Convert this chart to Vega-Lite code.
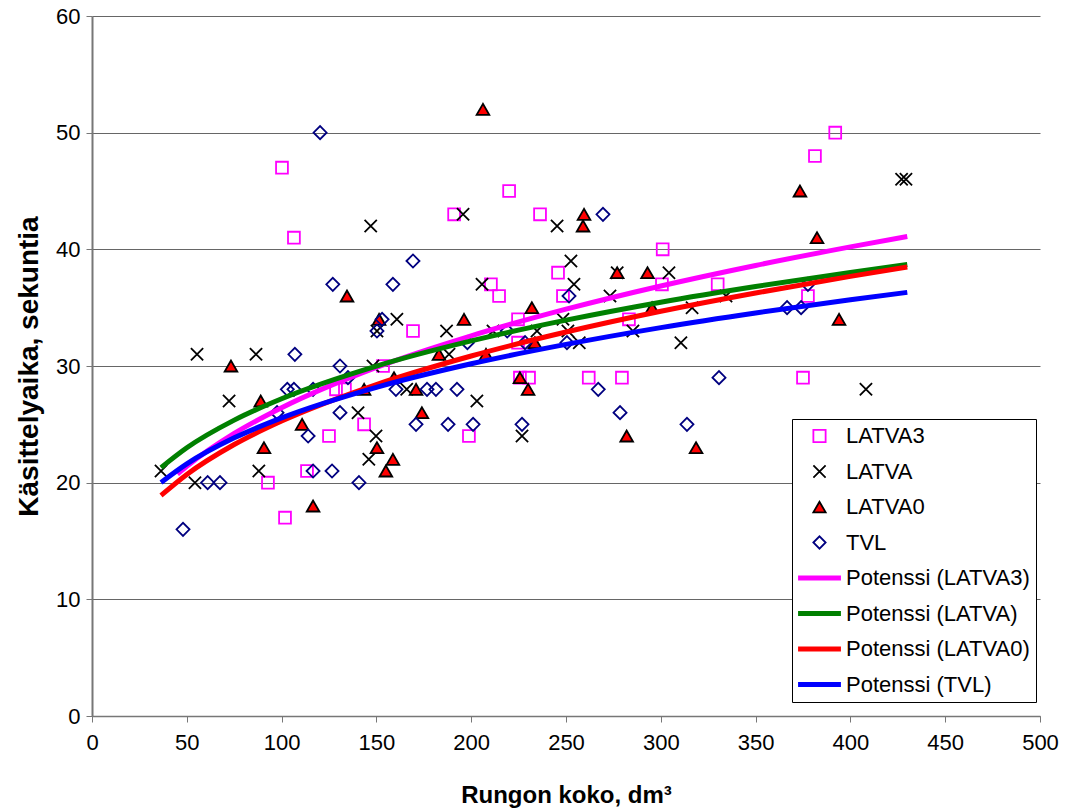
{
  "$schema": "https://vega.github.io/schema/vega-lite/v6.json",
  "width": 948,
  "height": 700,
  "autosize": {"type": "none"},
  "padding": {"left": 92, "top": 16, "right": 29, "bottom": 93},
  "background": "white",
  "config": {"view": {"stroke": null}, "font": "Liberation Sans"},
  "datasets": {
    "pts": [
      {"x": 100.2, "y": 47, "s": "LATVA3"}, {"x": 106.5, "y": 41, "s": "LATVA3"}, {"x": 101.8, "y": 17, "s": "LATVA3"},
      {"x": 92.8, "y": 20, "s": "LATVA3"}, {"x": 113.4, "y": 21, "s": "LATVA3"}, {"x": 125, "y": 24, "s": "LATVA3"},
      {"x": 128.7, "y": 28, "s": "LATVA3"}, {"x": 133.4, "y": 28, "s": "LATVA3"}, {"x": 143.5, "y": 25, "s": "LATVA3"},
      {"x": 153.5, "y": 30, "s": "LATVA3"}, {"x": 169.3, "y": 33, "s": "LATVA3"}, {"x": 191, "y": 43, "s": "LATVA3"},
      {"x": 198.8, "y": 24, "s": "LATVA3"}, {"x": 210.4, "y": 37, "s": "LATVA3"}, {"x": 214.7, "y": 36, "s": "LATVA3"},
      {"x": 220, "y": 45, "s": "LATVA3"}, {"x": 224.7, "y": 34, "s": "LATVA3"}, {"x": 224.7, "y": 32, "s": "LATVA3"},
      {"x": 225.7, "y": 29, "s": "LATVA3"}, {"x": 230.5, "y": 29, "s": "LATVA3"}, {"x": 236.3, "y": 43, "s": "LATVA3"},
      {"x": 245.8, "y": 38, "s": "LATVA3"}, {"x": 248.4, "y": 36, "s": "LATVA3"}, {"x": 262, "y": 29, "s": "LATVA3"},
      {"x": 279.5, "y": 29, "s": "LATVA3"}, {"x": 283.2, "y": 34, "s": "LATVA3"}, {"x": 300.6, "y": 37, "s": "LATVA3"},
      {"x": 301, "y": 40, "s": "LATVA3"}, {"x": 330, "y": 37, "s": "LATVA3"}, {"x": 375, "y": 29, "s": "LATVA3"},
      {"x": 377.6, "y": 36, "s": "LATVA3"}, {"x": 381.3, "y": 48, "s": "LATVA3"}, {"x": 392, "y": 50, "s": "LATVA3"},

      {"x": 36.4, "y": 21, "s": "LATVA"}, {"x": 54.3, "y": 20, "s": "LATVA"}, {"x": 55.4, "y": 31, "s": "LATVA"},
      {"x": 72.3, "y": 27, "s": "LATVA"}, {"x": 86.5, "y": 31, "s": "LATVA"}, {"x": 88, "y": 21, "s": "LATVA"},
      {"x": 140.3, "y": 26, "s": "LATVA"}, {"x": 146, "y": 22, "s": "LATVA"}, {"x": 147, "y": 42, "s": "LATVA"},
      {"x": 148.2, "y": 30, "s": "LATVA"}, {"x": 149.8, "y": 24, "s": "LATVA"}, {"x": 150.3, "y": 33, "s": "LATVA"},
      {"x": 160.8, "y": 34, "s": "LATVA"}, {"x": 166, "y": 28, "s": "LATVA"}, {"x": 187, "y": 33, "s": "LATVA"},
      {"x": 188.3, "y": 31, "s": "LATVA"}, {"x": 195.7, "y": 43, "s": "LATVA"}, {"x": 203, "y": 27, "s": "LATVA"},
      {"x": 205.7, "y": 37, "s": "LATVA"}, {"x": 211.5, "y": 33, "s": "LATVA"}, {"x": 226.8, "y": 24, "s": "LATVA"},
      {"x": 234.7, "y": 33, "s": "LATVA"}, {"x": 245.3, "y": 42, "s": "LATVA"}, {"x": 248.4, "y": 34, "s": "LATVA"},
      {"x": 251, "y": 33, "s": "LATVA"}, {"x": 252.6, "y": 39, "s": "LATVA"}, {"x": 254.2, "y": 37, "s": "LATVA"},
      {"x": 257, "y": 32, "s": "LATVA"}, {"x": 273.2, "y": 36, "s": "LATVA"}, {"x": 277, "y": 38, "s": "LATVA"},
      {"x": 285.3, "y": 33, "s": "LATVA"}, {"x": 304.3, "y": 38, "s": "LATVA"}, {"x": 310.6, "y": 32, "s": "LATVA"},
      {"x": 316.5, "y": 35, "s": "LATVA"}, {"x": 334.4, "y": 36, "s": "LATVA"}, {"x": 408.2, "y": 28, "s": "LATVA"},
      {"x": 427, "y": 46, "s": "LATVA"}, {"x": 429.3, "y": 46, "s": "LATVA"},

      {"x": 73.3, "y": 30, "s": "LATVA0"}, {"x": 89, "y": 27, "s": "LATVA0"}, {"x": 90.7, "y": 23, "s": "LATVA0"},
      {"x": 110.8, "y": 25, "s": "LATVA0"}, {"x": 116.6, "y": 18, "s": "LATVA0"}, {"x": 134.5, "y": 36, "s": "LATVA0"},
      {"x": 143.5, "y": 28, "s": "LATVA0"}, {"x": 150.3, "y": 23, "s": "LATVA0"}, {"x": 151.4, "y": 34, "s": "LATVA0"},
      {"x": 155, "y": 21, "s": "LATVA0"}, {"x": 158.7, "y": 22, "s": "LATVA0"}, {"x": 159.3, "y": 29, "s": "LATVA0"},
      {"x": 170.9, "y": 28, "s": "LATVA0"}, {"x": 174, "y": 26, "s": "LATVA0"}, {"x": 183, "y": 31, "s": "LATVA0"},
      {"x": 196.2, "y": 34, "s": "LATVA0"}, {"x": 206.2, "y": 52, "s": "LATVA0"}, {"x": 207.8, "y": 31, "s": "LATVA0"},
      {"x": 225.7, "y": 29, "s": "LATVA0"}, {"x": 230, "y": 28, "s": "LATVA0"}, {"x": 232, "y": 35, "s": "LATVA0"},
      {"x": 233.6, "y": 32, "s": "LATVA0"}, {"x": 259, "y": 42, "s": "LATVA0"}, {"x": 259.5, "y": 43, "s": "LATVA0"},
      {"x": 277, "y": 38, "s": "LATVA0"}, {"x": 282, "y": 24, "s": "LATVA0"}, {"x": 293, "y": 38, "s": "LATVA0"},
      {"x": 295.4, "y": 35, "s": "LATVA0"}, {"x": 318.6, "y": 23, "s": "LATVA0"}, {"x": 373.4, "y": 45, "s": "LATVA0"},
      {"x": 382.4, "y": 41, "s": "LATVA0"}, {"x": 394, "y": 34, "s": "LATVA0"},

      {"x": 48, "y": 16, "s": "TVL"}, {"x": 61, "y": 20, "s": "TVL"}, {"x": 67.5, "y": 20, "s": "TVL"},
      {"x": 97.6, "y": 26, "s": "TVL"}, {"x": 103, "y": 28, "s": "TVL"}, {"x": 106.5, "y": 28, "s": "TVL"},
      {"x": 107, "y": 31, "s": "TVL"}, {"x": 114, "y": 24, "s": "TVL"}, {"x": 116.6, "y": 28, "s": "TVL"},
      {"x": 116.6, "y": 21, "s": "TVL"}, {"x": 120.3, "y": 50, "s": "TVL"}, {"x": 126.6, "y": 21, "s": "TVL"},
      {"x": 127, "y": 37, "s": "TVL"}, {"x": 130.8, "y": 30, "s": "TVL"}, {"x": 130.8, "y": 26, "s": "TVL"},
      {"x": 135, "y": 29, "s": "TVL"}, {"x": 140.8, "y": 20, "s": "TVL"}, {"x": 150.3, "y": 33, "s": "TVL"},
      {"x": 153, "y": 34, "s": "TVL"}, {"x": 158.7, "y": 37, "s": "TVL"}, {"x": 160.3, "y": 28, "s": "TVL"},
      {"x": 169.3, "y": 39, "s": "TVL"}, {"x": 170.9, "y": 25, "s": "TVL"}, {"x": 176.7, "y": 28, "s": "TVL"},
      {"x": 181.4, "y": 28, "s": "TVL"}, {"x": 187.8, "y": 25, "s": "TVL"}, {"x": 192.5, "y": 28, "s": "TVL"},
      {"x": 198, "y": 32, "s": "TVL"}, {"x": 201, "y": 25, "s": "TVL"}, {"x": 219, "y": 33, "s": "TVL"},
      {"x": 226.8, "y": 25, "s": "TVL"}, {"x": 228.4, "y": 32, "s": "TVL"}, {"x": 250.5, "y": 32, "s": "TVL"},
      {"x": 251.6, "y": 36, "s": "TVL"}, {"x": 267, "y": 28, "s": "TVL"}, {"x": 269.5, "y": 43, "s": "TVL"},
      {"x": 278.5, "y": 26, "s": "TVL"}, {"x": 313.8, "y": 25, "s": "TVL"}, {"x": 330.7, "y": 29, "s": "TVL"},
      {"x": 366.6, "y": 35, "s": "TVL"}, {"x": 374, "y": 35, "s": "TVL"}, {"x": 377.6, "y": 37, "s": "TVL"}
    ],
    "trend": [
      {"x": 45, "y": 20.74, "s": "Potenssi (LATVA3)"}, {"x": 50, "y": 21.41, "s": "Potenssi (LATVA3)"},
      {"x": 75, "y": 24.22, "s": "Potenssi (LATVA3)"}, {"x": 100, "y": 26.42, "s": "Potenssi (LATVA3)"},
      {"x": 150, "y": 29.88, "s": "Potenssi (LATVA3)"}, {"x": 200, "y": 32.59, "s": "Potenssi (LATVA3)"},
      {"x": 250, "y": 34.87, "s": "Potenssi (LATVA3)"}, {"x": 300, "y": 36.86, "s": "Potenssi (LATVA3)"},
      {"x": 350, "y": 38.62, "s": "Potenssi (LATVA3)"}, {"x": 400, "y": 40.21, "s": "Potenssi (LATVA3)"},
      {"x": 430, "y": 41.1, "s": "Potenssi (LATVA3)"},

      {"x": 36.4, "y": 21.29, "s": "Potenssi (LATVA)"}, {"x": 50, "y": 22.99, "s": "Potenssi (LATVA)"},
      {"x": 75, "y": 25.36, "s": "Potenssi (LATVA)"}, {"x": 100, "y": 27.19, "s": "Potenssi (LATVA)"},
      {"x": 150, "y": 29.99, "s": "Potenssi (LATVA)"}, {"x": 200, "y": 32.15, "s": "Potenssi (LATVA)"},
      {"x": 250, "y": 33.93, "s": "Potenssi (LATVA)"}, {"x": 300, "y": 35.47, "s": "Potenssi (LATVA)"},
      {"x": 350, "y": 36.81, "s": "Potenssi (LATVA)"}, {"x": 400, "y": 38.02, "s": "Potenssi (LATVA)"},
      {"x": 430, "y": 38.7, "s": "Potenssi (LATVA)"},

      {"x": 36.4, "y": 18.9, "s": "Potenssi (LATVA0)"}, {"x": 50, "y": 20.7, "s": "Potenssi (LATVA0)"},
      {"x": 75, "y": 23.27, "s": "Potenssi (LATVA0)"}, {"x": 100, "y": 25.28, "s": "Potenssi (LATVA0)"},
      {"x": 150, "y": 28.41, "s": "Potenssi (LATVA0)"}, {"x": 200, "y": 30.86, "s": "Potenssi (LATVA0)"},
      {"x": 250, "y": 32.91, "s": "Potenssi (LATVA0)"}, {"x": 300, "y": 34.69, "s": "Potenssi (LATVA0)"},
      {"x": 350, "y": 36.26, "s": "Potenssi (LATVA0)"}, {"x": 400, "y": 37.68, "s": "Potenssi (LATVA0)"},
      {"x": 430, "y": 38.48, "s": "Potenssi (LATVA0)"},

      {"x": 36.4, "y": 20.02, "s": "Potenssi (TVL)"}, {"x": 50, "y": 21.61, "s": "Potenssi (TVL)"},
      {"x": 75, "y": 23.84, "s": "Potenssi (TVL)"}, {"x": 100, "y": 25.55, "s": "Potenssi (TVL)"},
      {"x": 150, "y": 28.17, "s": "Potenssi (TVL)"}, {"x": 200, "y": 30.19, "s": "Potenssi (TVL)"},
      {"x": 250, "y": 31.85, "s": "Potenssi (TVL)"}, {"x": 300, "y": 33.29, "s": "Potenssi (TVL)"},
      {"x": 350, "y": 34.55, "s": "Potenssi (TVL)"}, {"x": 400, "y": 35.68, "s": "Potenssi (TVL)"},
      {"x": 430, "y": 36.31, "s": "Potenssi (TVL)"}
    ]
  },
  "encoding": {
    "x": {
      "field": "x", "type": "quantitative",
      "scale": {"domain": [0, 500], "nice": false, "zero": false},
      "axis": {
        "title": "Rungon koko, dm³",
        "values": [0, 50, 100, 150, 200, 250, 300, 350, 400, 450, 500],
        "grid": false, "domainColor": "#777777", "domainWidth": 1.5,
        "tickColor": "#777777", "tickSize": 6, "tickWidth": 1,
        "labelFont": "Liberation Sans", "labelFontSize": 22, "labelColor": "black",
        "labelPadding": 10, "labelFlush": false, "labelOverlap": false,
        "titleFont": "Liberation Sans", "titleFontSize": 24, "titleFontWeight": "bold", "titleColor": "black",
        "titleX": 474, "titleY": 79, "titleAlign": "center", "titleBaseline": "middle"
      }
    },
    "y": {
      "field": "y", "type": "quantitative",
      "scale": {"domain": [0, 60], "nice": false, "zero": false},
      "axis": {
        "title": "Käsittelyaika, sekuntia",
        "values": [0, 10, 20, 30, 40, 50, 60],
        "grid": true, "gridColor": "#666666", "gridWidth": 1,
        "domainColor": "#777777", "domainWidth": 2,
        "tickColor": "#777777", "tickSize": 6, "tickWidth": 1,
        "labelFont": "Liberation Sans", "labelFontSize": 22, "labelColor": "black",
        "labelPadding": 6, "labelOverlap": false,
        "titleFont": "Liberation Sans", "titleFontSize": 28, "titleFontWeight": "bold", "titleColor": "black",
        "titleX": -63, "titleY": 350, "titleAngle": -90, "titleAlign": "center", "titleBaseline": "middle"
      }
    }
  },
  "layer": [
    {
      "data": {"name": "pts"},
      "mark": {"type": "point", "filled": true, "opacity": 1, "strokeWidth": 1.8},
      "encoding": {
        "shape": {
          "field": "s", "type": "nominal",
          "scale": {
            "domain": ["LATVA3", "LATVA", "LATVA0", "TVL", "Potenssi (LATVA3)", "Potenssi (LATVA)", "Potenssi (LATVA0)", "Potenssi (TVL)"],
            "range": ["square", "M-1,-1L1,1M-1,1L1,-1", "triangle-up", "diamond",
                      "M-3.5,-0.39H3.5V0.39H-3.5Z", "M-3.5,-0.39H3.5V0.39H-3.5Z", "M-3.5,-0.39H3.5V0.39H-3.5Z", "M-3.5,-0.39H3.5V0.39H-3.5Z"]
          },
          "legend": {
            "title": null, "orient": "none", "legendX": 700, "legendY": 403,
            "fillColor": "white", "strokeColor": "black", "padding": 6,
            "labelFont": "Liberation Sans", "labelFontSize": 22, "labelColor": "black", "labelLimit": 0,
            "rowPadding": 13.5, "symbolOffset": 10.5, "labelOffset": 15.5, "clipHeight": 22,
            "symbolSize": 150, "symbolStrokeWidth": 1.8
          }
        },
        "fill": {
          "field": "s", "type": "nominal",
          "scale": {
            "domain": ["LATVA3", "LATVA", "LATVA0", "TVL", "Potenssi (LATVA3)", "Potenssi (LATVA)", "Potenssi (LATVA0)", "Potenssi (TVL)"],
            "range": ["transparent", "transparent", "#FF0000", "transparent", "#FF00FF", "#008000", "#FF0000", "#0000FF"]
          }
        },
        "stroke": {
          "field": "s", "type": "nominal",
          "scale": {
            "domain": ["LATVA3", "LATVA", "LATVA0", "TVL", "Potenssi (LATVA3)", "Potenssi (LATVA)", "Potenssi (LATVA0)", "Potenssi (TVL)"],
            "range": ["#FF00FF", "#000000", "#000000", "#000080", "transparent", "transparent", "transparent", "transparent"]
          }
        },
        "size": {
          "field": "s", "type": "nominal",
          "scale": {"domain": ["LATVA3", "LATVA", "LATVA0", "TVL"], "range": [140, 170, 210, 160]},
          "legend": null
        }
      }
    },
    {
      "data": {"name": "trend"},
      "mark": {"type": "line", "strokeWidth": 5, "interpolate": "monotone"},
      "encoding": {
        "color": {
          "field": "s", "type": "nominal",
          "scale": {
            "domain": ["Potenssi (LATVA3)", "Potenssi (LATVA)", "Potenssi (LATVA0)", "Potenssi (TVL)"],
            "range": ["#FF00FF", "#008000", "#FF0000", "#0000FF"]
          },
          "legend": null
        }
      }
    }
  ]
}
